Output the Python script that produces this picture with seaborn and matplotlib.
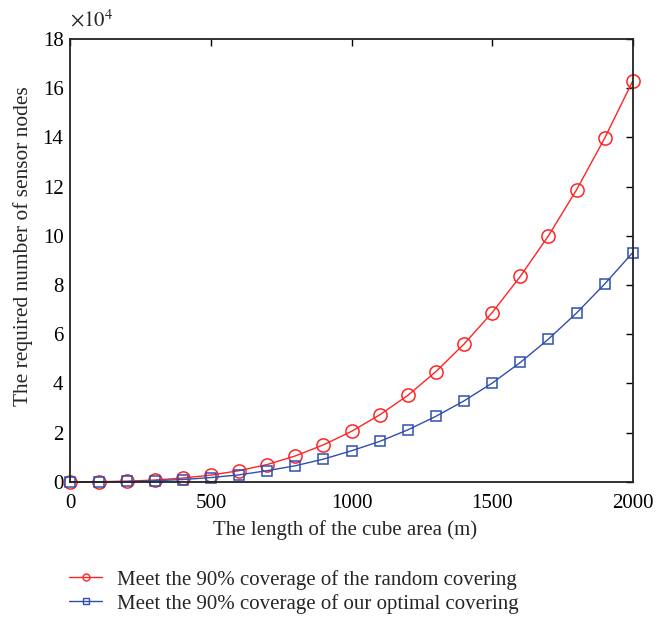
import numpy as np
import pandas as pd
import seaborn as sns
from matplotlib import pyplot as plt

# cube side length (m)
lengths = [0, 100, 200, 300, 400, 500, 600, 700, 800, 900, 1000,
           1100, 1200, 1300, 1400, 1500, 1600, 1700, 1800, 1900, 2000]

# required sensor nodes, in units of 1e4
random_nodes = [0.0, 0.0, 0.02, 0.07, 0.15, 0.27, 0.45, 0.7, 1.05, 1.5, 2.05,
                2.72, 3.51, 4.48, 5.6, 6.88, 8.35, 10.0, 11.87, 13.97, 16.3]
optimal_nodes = [0.0, 0.0, 0.01, 0.04, 0.09, 0.17, 0.28, 0.45, 0.65, 0.92, 1.26,
                 1.64, 2.11, 2.66, 3.29, 4.01, 4.85, 5.8, 6.86, 8.04, 9.32]

label_random = "Meet the 90% coverage of the random covering"
label_optimal = "Meet the 90% coverage of our optimal covering"

df = pd.DataFrame({
    "length": lengths * 2,
    "nodes": random_nodes + optimal_nodes,
    "series": [label_random] * len(lengths) + [label_optimal] * len(lengths),
})

sns.set_style("white")
plt.rcParams['font.family'] = ['Liberation Serif', 'DejaVu Serif']
plt.rcParams['mathtext.fontset'] = 'stix'

fig = plt.figure(figsize=(6.64, 6.2), dpi=100)
ax = fig.add_axes([0.106, 0.223, 0.847, 0.714])

palette = {label_random: "#ff2424", label_optimal: "#2f4fb0"}
sns.lineplot(data=df, x="length", y="nodes", hue="series", style="series",
             markers={label_random: "o", label_optimal: "s"},
             dashes=False, palette=palette, linewidth=1.0,
             markerfacecolor="none", markeredgewidth=1.1,
             ax=ax, legend=False)

# markers: open shapes with coloured edges
for line, color, ms in zip(ax.get_lines(), [palette[label_random], palette[label_optimal]], [9.5, 7]):
    line.set_markeredgecolor(color)
    line.set_markerfacecolor("none")
    line.set_markersize(ms)
    line.set_clip_on(False)

ax.set_xlim(0, 2000)
ax.set_ylim(0, 18)
ax.set_xticks([0, 500, 1000, 1500, 2000])
ax.set_yticks(np.arange(0, 19, 2))
ax.tick_params(direction="in", top=True, right=True, length=5, width=1,
               labelsize=15, colors="black")
ax.tick_params(axis="x", pad=9)
ax.tick_params(axis="y", pad=5)
for sp in ax.spines.values():
    sp.set_color("#222222")
    sp.set_linewidth(1.3)

ax.set_xlabel("The length of the cube area (m)", fontsize=15, va="center")
ax.xaxis.set_label_coords(0.488, -0.108)
ax.set_ylabel("The required number of sensor nodes", fontsize=15.4, va="center")
ax.yaxis.set_label_coords(-0.085, 0.533)
ax.text(0.0, 1.017, r"$\times 10^4$", transform=ax.transAxes, fontsize=15,
        ha="left", va="bottom")

handles = [
    plt.Line2D([], [], color=palette[label_random], marker="o", markerfacecolor="none",
               markersize=5, linewidth=1.0),
    plt.Line2D([], [], color=palette[label_optimal], marker="s", markerfacecolor="none",
               markersize=4, linewidth=1.0),
]
fig.legend(handles, [label_random, label_optimal], loc="upper left",
           bbox_to_anchor=(0.088, 0.098), frameon=False, fontsize=15,
           handlelength=1.6, labelspacing=0.2, borderpad=0, handletextpad=0.7)

fig.savefig("out.png", dpi=100)
